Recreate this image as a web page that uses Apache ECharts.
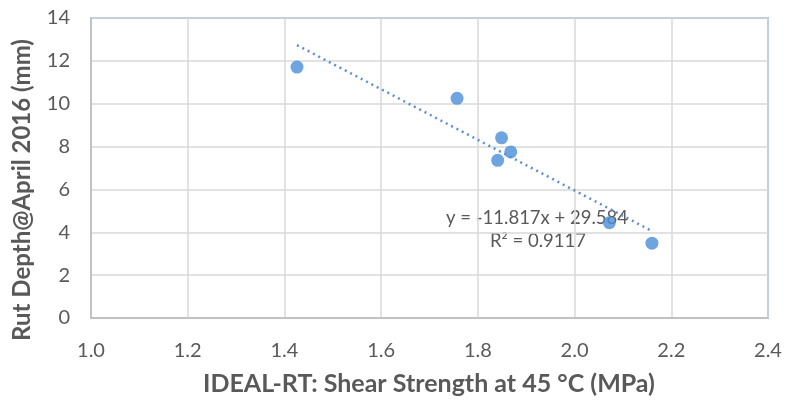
<!DOCTYPE html>
<html>
<head>
<meta charset="utf-8">
<script src="https://cdn.jsdelivr.net/npm/echarts@6/dist/echarts.min.js"></script>
<style>
  html, body { margin: 0; padding: 0; background: #ffffff; }
  #chart { width: 785px; height: 405px; }
</style>
</head>
<body>
<div id="chart"></div>
<script>
// Shear strength (MPa) vs. rut depth (mm) per section
const shearStrength = [1.426, 1.757, 1.849, 1.868, 1.841, 2.072, 2.160];
const rutDepth      = [11.71, 10.25, 8.41, 7.75, 7.36, 4.45, 3.49];

// Linear trend reported on the chart
const trendSlope = -11.817;
const trendIntercept = 29.584;
const trendR2 = 0.9117;

const xTicks = [1.0, 1.2, 1.4, 1.6, 1.8, 2.0, 2.2, 2.4];
const yTicks = [0, 2, 4, 6, 8, 10, 12, 14];

const xMin = Math.min(...shearStrength);
const xMax = Math.max(...shearStrength);
const trendLine = [xMin, xMax].map(x => [x, trendSlope * x + trendIntercept]);

const textGrey = '#595959';
const font = 'Lato, "Open Sans", sans-serif';

const chart = echarts.init(document.getElementById('chart'), null, { renderer: 'canvas' });

chart.setOption({
  animation: false,
  backgroundColor: '#ffffff',
  grid: {
    left: 91, right: 17, top: 18, bottom: 87,
    show: true,
    borderColor: '#5b9bd5',
    borderWidth: 1.5,
    backgroundColor: 'transparent'
  },
  xAxis: {
    type: 'value',
    min: xTicks[0], max: xTicks[xTicks.length - 1], interval: 0.2,
    axisLine: { show: true, lineStyle: { color: '#bfbfbf', width: 1.5 } },
    axisTick: { show: false },
    splitLine: { show: true, lineStyle: { color: '#d9d9d9', width: 1.5 } },
    axisLabel: {
      color: textGrey, fontFamily: font, fontSize: 20, margin: 23,
      formatter: v => v.toFixed(1)
    }
  },
  yAxis: {
    type: 'value',
    min: yTicks[0], max: yTicks[yTicks.length - 1], interval: 2,
    axisLine: { show: true, lineStyle: { color: '#bfbfbf', width: 1.5 } },
    axisTick: { show: false },
    splitLine: { show: true, lineStyle: { color: '#d9d9d9', width: 1.5 } },
    axisLabel: { color: textGrey, fontFamily: font, fontSize: 20, margin: 21 }
  },
  graphic: [
    {
      type: 'text',
      x: 429, y: 384,
      style: {
        text: 'IDEAL-RT: Shear Strength at 45 °C (MPa)',
        fill: textGrey,
        font: 'bold 25px ' + font,
        align: 'center',
        verticalAlign: 'middle'
      }
    },
    {
      type: 'text',
      x: 22, y: 190,
      rotation: Math.PI / 2,
      style: {
        text: 'Rut Depth@April 2016 (mm)',
        fill: textGrey,
        font: 'bold 24px ' + font,
        align: 'center',
        verticalAlign: 'middle'
      }
    },
    {
      type: 'text',
      x: 537, y: 218,
      style: {
        text: 'y = -11.817x + 29.584',
        fill: textGrey,
        font: '18.5px ' + font,
        align: 'center',
        verticalAlign: 'middle'
      }
    },
    {
      type: 'text',
      x: 538, y: 241,
      style: {
        text: 'R² = ' + trendR2.toFixed(4),
        fill: textGrey,
        font: '18.5px ' + font,
        align: 'center',
        verticalAlign: 'middle'
      }
    }
  ],
  series: [
    {
      name: 'Trend',
      type: 'line',
      data: trendLine,
      symbol: 'none',
      lineStyle: { color: '#5b8fd0', width: 2.5, type: [2, 4] },
      z: 2
    },
    {
      name: 'Sections',
      type: 'scatter',
      data: shearStrength.map((x, i) => [x, rutDepth[i]]),
      symbolSize: 13,
      itemStyle: { color: '#4a8fd9' },
      z: 3
    }
  ]
});
</script>
</body>
</html>
